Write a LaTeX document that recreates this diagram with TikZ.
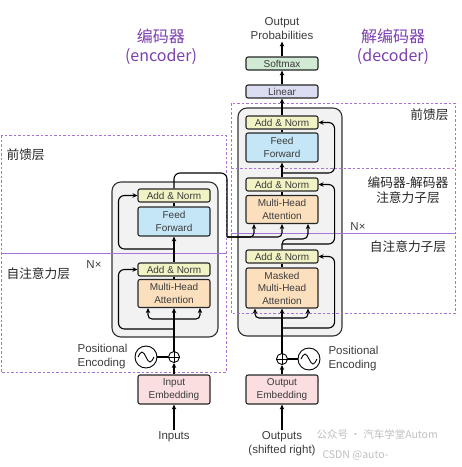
\documentclass[tikz,border=0pt]{standalone}
\usepackage{fontspec}
\setmainfont{Liberation Sans}
\newfontfamily\cjk{Noto Sans CJK SC}
\usetikzlibrary{arrows.meta}
\definecolor{addnorm}{RGB}{242,243,196}
\definecolor{ffwd}{RGB}{196,230,246}
\definecolor{attn}{RGB}{252,224,190}
\definecolor{embd}{RGB}{250,222,224}
\definecolor{lin}{RGB}{220,221,242}
\definecolor{smax}{RGB}{208,234,212}
\definecolor{stack}{RGB}{242,242,242}
\definecolor{purp}{RGB}{125,62,175}
\definecolor{dashp}{RGB}{170,115,215}
\definecolor{txt}{RGB}{60,60,60}
\tikzset{
    every node/.style={
        text=txt
    },
    every path/.style={
        color=black,
        line width=1.1pt
    }
}
\tikzstyle{blk}=[draw=black!85, line width=1.1pt, rounded corners=2pt, minimum width=72pt, inner sep=0pt, align=center, font=\fontsize{10}{12.5}\selectfont]
\tikzstyle{addn}=[blk, fill=addnorm, minimum height=13pt]
\tikzstyle{ffw}=[blk, fill=ffwd, minimum height=29pt]
\tikzstyle{att}=[blk, fill=attn, minimum height=28pt]
\tikzstyle{emb}=[blk, fill=embd, minimum height=29pt]
\tikzstyle{outl}=[blk, minimum height=13pt]
\tikzstyle{stk}=[draw=black!80, fill=stack, line width=1.1pt, rounded corners=9pt]
\tikzstyle{lbl}=[inner sep=1pt, align=left, font=\fontsize{11.5}{14}\selectfont]
\tikzstyle{zh}=[inner sep=0pt, align=center, text=black!85, font=\cjk\fontsize{12.7}{15}\selectfont]
\tikzstyle{ttl}=[inner sep=0pt, align=center, text=purp, font=\cjk\fontsize{16}{19}\selectfont]
\tikzstyle{plus}=[draw=black, circle, minimum size=11pt, inner sep=0pt, line width=0.9pt]
\tikzstyle{wave}=[draw=black, circle, minimum size=22pt, inner sep=0pt, line width=0.9pt]
\tikzstyle{arr}=[-{Stealth[length=5pt,width=4.5pt]}]
\tikzstyle{dsh}=[draw=dashp, line width=0.8pt, dash pattern=on 2.5pt off 2pt]
\tikzstyle{sol}=[draw=dashp, line width=0.9pt]
\tikzstyle{wm}=[inner sep=0pt, text=black!25, font=\cjk\fontsize{10.5}{12}\selectfont]

\begin{document}
\begin{tikzpicture}[x=1pt,y=-1pt]
\useasboundingbox (0,0) rectangle (462,467);

\node[stk, minimum width=106pt, minimum height=155pt] (EB) at (165,259.5) {};
\node[stk, minimum width=104pt, minimum height=228pt] (DB) at (290,222) {};

\draw[dsh] (1,135) rectangle (226,372);
\draw[sol] (1,253) -- (226,253);
\draw[dsh] (231,103) rectangle (455,313);
\draw[dsh] (231,168) -- (455,168);
\draw[sol] (231,233) -- (455,233);

\node[ttl] (T1) at (161,47) {编码器\\(encoder)};
\node[ttl] (T2) at (393,47) {解编码器\\(decoder)};
\node[zh, anchor=west] (L1) at (6,155) {前馈层};
\node[zh, anchor=west] (L2) at (6,274) {自注意力层};
\node[zh, anchor=east] (L3) at (449,115) {前馈层};
\node[zh] (L4) at (408,190) {编码器-解码器\\注意力子层};
\node[zh] (L5) at (408,247) {自注意力子层};
\node[lbl] (N1) at (94,265) {N×};
\node[lbl] (N2) at (358,227) {N×};

\node[addn] (EN2) at (174,195.5) {Add \& Norm};
\node[ffw] (EFF) at (174,221.5) {Feed\\Forward};
\node[addn] (EN1) at (174,269.5) {Add \& Norm};
\node[att] (EMH) at (174,293.5) {Multi-Head\\Attention};
\node[plus] (EP) at (174,357) {};
\node[wave] (ES) at (146,357) {};
\node[emb] (EEM) at (174,389.5) {Input\\Embedding};
\node[lbl] (EIN) at (174,437) {Inputs};
\node[lbl, anchor=east] (EPE) at (129,357) {Positional\\Encoding};

\node[outl, fill=smax] (DSM) at (282,63.5) {Softmax};
\node[outl, fill=lin] (DL) at (282,91.5) {Linear};
\node[addn] (DN3) at (282,122.5) {Add \& Norm};
\node[ffw] (DFF) at (282,147.5) {Feed\\Forward};
\node[addn] (DN2) at (282,184.5) {Add \& Norm};
\node[att] (DMH) at (282,209.5) {Multi-Head\\Attention};
\node[addn] (DN1) at (282,256.5) {Add \& Norm};
\node[att, minimum height=40pt] (DMM) at (282,288) {Masked\\Multi-Head\\Attention};
\node[plus] (DP) at (282,359) {};
\node[wave] (DS) at (309,359) {};
\node[emb] (DEM) at (282,389.5) {Output\\Embedding};
\node[lbl, align=center] (DIN) at (282,444) {Outputs\\(shifted right)};
\node[lbl, align=center] (DOUT) at (282,29) {Output\\Probabilities};
\node[lbl, anchor=west] (DPE) at (327,359) {Positional\\Encoding};

\node[wm, anchor=west] (W1) at (316,434) {公众号 · 汽车学堂Autom};
\node[wm, anchor=west] (W2) at (322,455) {CSDN @auto-};

\coordinate (EB1) at (174,319);
\coordinate (ER1) at (174,329);
\coordinate (ER2) at (174,249);
\coordinate (EO1) at (227,173);
\coordinate (EO2) at (227,237);
\coordinate (DB1) at (282,318);
\coordinate (DR1) at (282,328);
\coordinate (DJ) at (282,239);
\coordinate (DR2) at (282,244);
\coordinate (DR3) at (282,173);

\path [arr] (EIN) edge (EEM);
\path [arr] (EEM) edge (EP);
\path [-] (ES) edge (EP);
\path [arr] (EP) edge (EMH);
\draw[arr, rounded corners=4pt] (EB1) -| ([xshift=-26pt]EMH.south);
\draw[arr, rounded corners=4pt] (EB1) -| ([xshift=26pt]EMH.south);
\draw[arr, rounded corners=6pt] (ER1) -| ([xshift=-19pt]EN1.west) -- (EN1.west);
\path [-] (EMH) edge (EN1);
\path [arr] (EN1) edge (EFF);
\draw[arr, rounded corners=6pt] (ER2) -| ([xshift=-19pt]EN2.west) -- (EN2.west);
\path [-] (EFF) edge (EN2);
\draw[rounded corners=6pt] (EN2.north) |- (EO1) -- (EO2);
\draw[arr, rounded corners=4pt] (EO2) -| ([xshift=-28pt]DMH.south);
\draw[arr, rounded corners=4pt] (EO2) -| (DMH.south);
\draw[line width=0.9pt] (EP.north) -- (EP.south) (EP.west) -- (EP.east);
\draw[line width=0.9pt] ([xshift=-8pt]ES.center) sin ++(4,-5) cos ++(4,5) sin ++(4,5) cos ++(4,-5);

\path [arr] (DIN) edge (DEM);
\path [arr] (DEM) edge (DP);
\path [-] (DP) edge (DS);
\path [arr] (DP) edge (DMM);
\draw[arr, rounded corners=4pt] (DB1) -| ([xshift=-27pt]DMM.south);
\draw[arr, rounded corners=4pt] (DB1) -| ([xshift=26pt]DMM.south);
\draw[arr, rounded corners=6pt] (DR1) -| ([xshift=16pt]DN1.east) -- (DN1.east);
\path [-] (DMM) edge (DN1);
\draw[arr, rounded corners=5pt] (DN1.north) -- (DJ) -| ([xshift=26pt]DMH.south);
\draw[arr, rounded corners=6pt] (DR2) -| ([xshift=16pt]DN2.east) -- (DN2.east);
\path [-] (DMH) edge (DN2);
\path [arr] (DN2) edge (DFF);
\draw[arr, rounded corners=6pt] (DR3) -| ([xshift=16pt]DN3.east) -- (DN3.east);
\path [-] (DFF) edge (DN3);
\path [arr] (DN3) edge (DL);
\path [arr] (DL) edge (DSM);
\path [arr] (DSM) edge (DOUT);
\draw[line width=0.9pt] (DP.north) -- (DP.south) (DP.west) -- (DP.east);
\draw[line width=0.9pt] ([xshift=-8pt]DS.center) sin ++(4,-5) cos ++(4,5) sin ++(4,5) cos ++(4,-5);
\end{tikzpicture}
\end{document}
